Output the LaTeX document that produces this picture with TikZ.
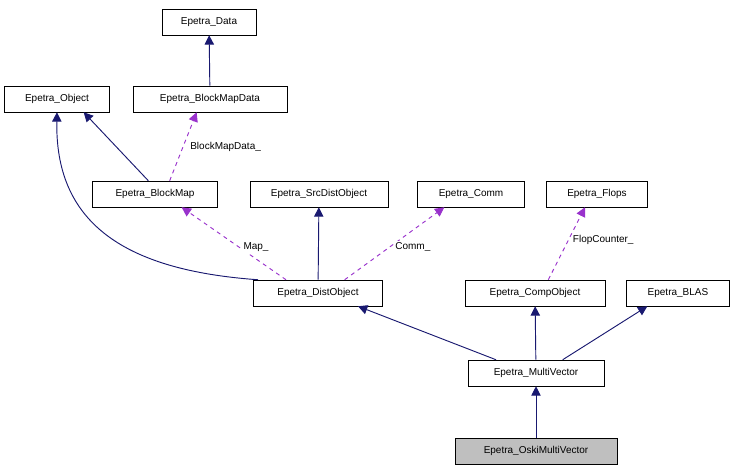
\documentclass[tikz,border=0pt]{standalone}
\usepackage{fontspec}
\setmainfont{Liberation Sans}
\usetikzlibrary{arrows.meta}
\begin{document}
\begin{tikzpicture}[x=0.75pt,y=-0.75pt,
 box/.style={draw,fill=white,minimum height=19.5pt,inner sep=0pt,font=\fontsize{7.5}{9}\selectfont},
 inh/.style={draw={rgb,255:red,25;green,25;blue,112},-{Triangle[width=7pt,length=7pt]},line width=0.7pt},
 use/.style={draw={rgb,255:red,153;green,50;blue,204},dashed,-{Triangle[width=7pt,length=7pt]},line width=0.7pt},
 lab/.style={font=\fontsize{7.5}{9}\selectfont,fill=white,inner sep=1pt}]
\useasboundingbox (0,0) rectangle (736,472);
\node[box,minimum width=70.5pt] (data) at (209,22) {Epetra\_Data};
\node[box,minimum width=115.5pt] (bmd) at (210,99) {Epetra\_BlockMapData};
\node[box,minimum width=78.75pt] (obj) at (57,99) {Epetra\_Object};
\node[box,minimum width=93.75pt] (bm) at (155,194) {Epetra\_BlockMap};
\node[box,minimum width=103.5pt] (src) at (319,194) {Epetra\_SrcDistObject};
\node[box,minimum width=80.25pt] (comm) at (471,194) {Epetra\_Comm};
\node[box,minimum width=75.75pt] (flops) at (597,194) {Epetra\_Flops};
\node[box,minimum width=96.75pt] (dist) at (318,293) {Epetra\_DistObject};
\node[box,minimum width=105pt] (comp) at (535,293) {Epetra\_CompObject};
\node[box,minimum width=77.25pt] (blas) at (678,293) {Epetra\_BLAS};
\node[box,minimum width=102pt] (mv) at (536,373) {Epetra\_MultiVector};
\node[box,minimum width=121.5pt,fill={rgb,255:red,191;green,191;blue,191}] (oski) at (536,451) {Epetra\_OskiMultiVector};
\draw[inh] (bmd) -- (data);
\draw[inh] ([xshift=-5pt]bm.north) -- ([xshift=20pt]obj.south);
\draw[inh] ([xshift=-45pt]dist.north) .. controls (120,270) and (55,220) .. (obj.south);
\draw[inh] (dist) -- (src);
\draw[inh] ([xshift=-30pt]mv.north) -- ([xshift=30pt]dist.south);
\draw[inh] (mv) -- (comp);
\draw[inh] ([xshift=20pt]mv.north) -- ([xshift=-23pt]blas.south);
\draw[inh] (oski) -- (mv);
\draw[use] ([xshift=-24pt]dist.north) -- node[lab,pos=0.45,right=2pt] {Map\_} ([xshift=20pt]bm.south);
\draw[use] ([xshift=20pt]dist.north) -- node[lab,pos=0.45,right=3pt] {Comm\_} ([xshift=-20pt]comm.south);
\draw[use] ([xshift=10pt]comp.north) -- node[lab,pos=0.55,right=2pt] {FlopCounter\_} ([xshift=-9pt]flops.south);
\draw[use] ([xshift=11pt]bm.north) -- node[lab,pos=0.5,right=4pt] {BlockMapData\_} ([xshift=-10pt]bmd.south);
\end{tikzpicture}
\end{document}
